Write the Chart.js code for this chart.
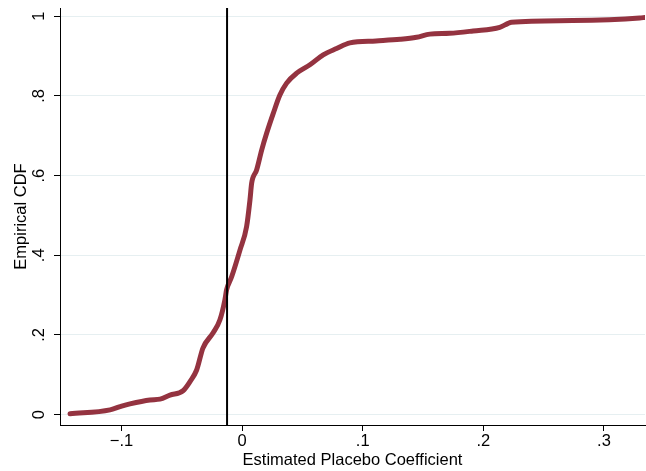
<!DOCTYPE html>
<html>
<head>
<meta charset="utf-8">
<script src="https://cdn.jsdelivr.net/npm/chart.js@4.4.1/dist/chart.umd.min.js"></script>
<style>
  html, body { margin: 0; padding: 0; background: #ffffff; }
  #wrap { width: 646px; height: 471px; }
</style>
</head>
<body>
<div id="wrap"><canvas id="c" width="646" height="471"></canvas></div>
<script>
// Empirical CDF of estimated placebo coefficients
const cdfX = [-0.1427, -0.1095, -0.1012, -0.0930, -0.0764, -0.0681, -0.0598, -0.0490, -0.0432, -0.0377,
  -0.0325, -0.0239, -0.0184, -0.0143, -0.0129, -0.0087, -0.0018, 0.0037, 0.0065, 0.0079,
  0.0120, 0.0162, 0.0203, 0.0258, 0.0313, 0.0369, 0.0452, 0.0562, 0.0672, 0.0783,
  0.0893, 0.1110, 0.1310, 0.1446, 0.1556, 0.1720, 0.1915, 0.2136, 0.2205,
  0.2233, 0.2740, 0.3296, 0.3340];
const cdfY = [0.002, 0.012, 0.020, 0.027, 0.037, 0.039, 0.049, 0.060, 0.083, 0.112,
  0.167, 0.206, 0.238, 0.288, 0.313, 0.346, 0.413, 0.472, 0.539, 0.581,
  0.614, 0.664, 0.706, 0.756, 0.802, 0.832, 0.857, 0.878, 0.903, 0.919,
  0.933, 0.938, 0.942, 0.947, 0.955, 0.957, 0.963, 0.972, 0.982,
  0.985, 0.989, 0.9955, 0.997];

// Reference (actual estimate) line
const refX = -0.0125;

// Axes
const xMin = -0.151, xMax = 0.334;
const yMin = -0.026, yMax = 1.0206;
const xTickValues = [-0.1, 0, 0.1, 0.2, 0.3];
const xTickLabels = ['\u2212.1', '0', '.1', '.2', '.3'];
const yTickValues = [0, 0.2, 0.4, 0.6, 0.8, 1];
const yTickLabels = ['0', '.2', '.4', '.6', '.8', '1'];

const cdfData = cdfX.map((x, i) => ({ x: x, y: cdfY[i] }));
const refData = [{ x: refX, y: yMin }, { x: refX, y: yMax }];

const FONT = '"Liberation Sans", Arial, Helvetica, sans-serif';

new Chart(document.getElementById('c'), {
  type: 'line',
  data: {
    datasets: [
      {
        label: 'Empirical CDF',
        data: cdfData,
        borderColor: '#943340',
        borderWidth: 5,
        pointRadius: 0,
        cubicInterpolationMode: 'monotone',
        borderCapStyle: 'round',
        borderJoinStyle: 'round',
        fill: false,
        order: 2
      },
      {
        label: 'Estimate',
        data: refData,
        borderColor: '#000000',
        borderWidth: 2,
        pointRadius: 0,
        tension: 0,
        fill: false,
        order: 1
      }
    ]
  },
  options: {
    responsive: false,
    animation: false,
    devicePixelRatio: 1,
    layout: { padding: { top: 8, right: 1, left: 0, bottom: 0 } },
    plugins: {
      legend: { display: false },
      tooltip: { enabled: false }
    },
    scales: {
      x: {
        type: 'linear',
        min: xMin,
        max: xMax,
        afterBuildTicks: (s) => { s.ticks = xTickValues.map(v => ({ value: v })); },
        afterFit: (s) => { s.height = 46; s.paddingLeft = 0; s.paddingRight = 0; },
        ticks: {
          autoSkip: false,
          maxRotation: 0,
          padding: 1,
          color: '#000000',
          font: { family: FONT, size: 16.5 },
          callback: (v) => {
            const i = xTickValues.findIndex(t => Math.abs(t - v) < 1e-9);
            return i >= 0 ? xTickLabels[i] : '';
          }
        },
        grid: {
          drawOnChartArea: false,
          drawTicks: true,
          tickLength: 6,
          tickColor: '#000000'
        },
        border: { display: true, color: '#000000', width: 1 },
        title: {
          display: true,
          text: 'Estimated Placebo Coefficient',
          color: '#000000',
          font: { family: FONT, size: 16.5 },
          padding: { top: 0, bottom: 1 }
        }
      },
      y: {
        type: 'linear',
        min: yMin,
        max: yMax,
        afterBuildTicks: (s) => { s.ticks = yTickValues.map(v => ({ value: v })); },
        afterFit: (s) => { s.width = 60; s.paddingTop = 0; s.paddingBottom = 0; },
        ticks: {
          autoSkip: false,
          minRotation: 90,
          maxRotation: 90,
          crossAlign: 'center',
          padding: 8,
          color: '#000000',
          font: { family: FONT, size: 16.5 },
          callback: (v) => {
            const i = yTickValues.findIndex(t => Math.abs(t - v) < 1e-9);
            return i >= 0 ? yTickLabels[i] : '';
          }
        },
        grid: {
          drawOnChartArea: true,
          color: '#e6eff1',
          lineWidth: 1,
          drawTicks: true,
          tickLength: 6,
          tickColor: '#000000'
        },
        border: { display: true, color: '#000000', width: 1 },
        title: {
          display: true,
          text: 'Empirical CDF',
          color: '#000000',
          font: { family: FONT, size: 16.5 },
          padding: { top: 12, bottom: 0 }
        }
      }
    }
  }
});
</script>
</body>
</html>
